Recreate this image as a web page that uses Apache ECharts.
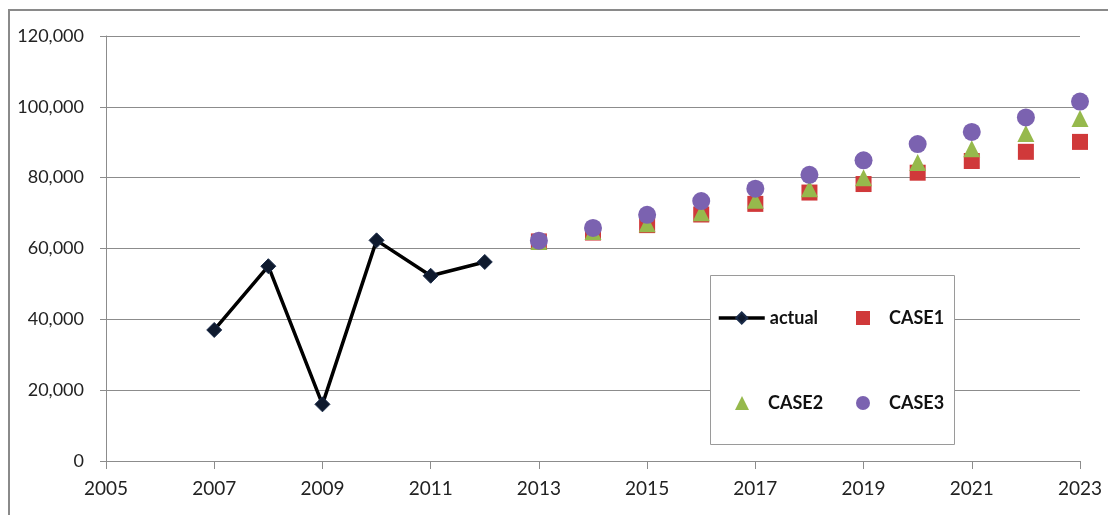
<!DOCTYPE html>
<html>
<head>
<meta charset="utf-8">
<script src="https://cdn.jsdelivr.net/npm/echarts@6/dist/echarts.min.js"></script>
<style>html,body{margin:0;padding:0;background:#fff}#c{width:1108px;height:515px}</style>
</head>
<body>
<div id="c"></div>
<script>
var actualYears = [2007, 2008, 2009, 2010, 2011, 2012];
var actualValues = [37000, 55000, 16000, 62300, 52300, 56200];
var caseYears = [2013, 2014, 2015, 2016, 2017, 2018, 2019, 2020, 2021, 2022, 2023];
var case1Values = [62000, 64500, 66600, 69600, 72600, 75800, 78200, 81400, 84700, 87300, 90100];
var case2Values = [62000, 64800, 67000, 70100, 73600, 76900, 80000, 84300, 88200, 92500, 96700];
var case3Values = [62200, 65800, 69500, 73400, 76900, 80800, 84900, 89500, 92900, 97000, 101500];
var yTicks = [0, 20000, 40000, 60000, 80000, 100000, 120000];
var xTicks = [2005, 2007, 2009, 2011, 2013, 2015, 2017, 2019, 2021, 2023];

function pairs(xs, ys) { return xs.map(function (x, i) { return [x, ys[i]]; }); }

var chart = echarts.init(document.getElementById('c'));
var font = 'Lato, "Open Sans", sans-serif';
var legendText = { fontSize: 18, fontWeight: 'bold', color: '#111', fontFamily: font };
function leg(name, left, top, w, h, padLeft, extra) {
  return Object.assign({
    left: left, top: top, itemWidth: w, itemHeight: h, z: 10,
    textStyle: Object.assign({}, legendText, { padding: [0, 0, 0, padLeft] }),
    data: [name]
  }, extra || {});
}
chart.setOption({
  animation: false,
  backgroundColor: '#fff',
  grid: { left: 106, right: 28, top: 36, bottom: 54, containLabel: false },
  graphic: [
    { type: 'rect', shape: { x: 9, y: 10, width: 1200, height: 600 }, style: { fill: 'none', stroke: '#8a8a8a', lineWidth: 2 }, silent: true, z: -1 },
    { type: 'rect', shape: { x: 710.5, y: 275.5, width: 244, height: 169 }, style: { fill: '#fff', stroke: '#9a9a9a', lineWidth: 1 }, silent: true, z: 5 }
  ],
  xAxis: {
    type: 'value', min: xTicks[0], max: xTicks[xTicks.length - 1], interval: 2,
    axisLine: { show: true, lineStyle: { color: '#8c8c8c', width: 1 } },
    axisTick: { show: true, length: 8, lineStyle: { color: '#8c8c8c' } },
    splitLine: { show: false },
    axisLabel: { color: '#222', fontSize: 19, fontFamily: font, margin: 18, formatter: function (v) { return String(v); } }
  },
  yAxis: {
    type: 'value', min: yTicks[0], max: yTicks[yTicks.length - 1], interval: 20000,
    axisLine: { show: true, lineStyle: { color: '#8c8c8c', width: 1 } },
    axisTick: { show: true, length: 6, lineStyle: { color: '#8c8c8c' } },
    splitLine: { show: true, lineStyle: { color: '#8c8c8c', width: 1 } },
    axisLabel: { color: '#222', fontSize: 18, fontFamily: font, margin: 22, formatter: function (v) { return v.toLocaleString('en-US'); } }
  },
  legend: [
    leg('actual', 712, 304, 46, 14, 0, { lineStyle: { width: 3.5, color: '#000' } }),
    leg('CASE2', 730, 389, 14, 14, 14),
    leg('CASE1', 851, 304, 14, 14, 14),
    leg('CASE3', 851, 389, 14, 14, 14)
  ],
  series: [
    {
      name: 'actual', type: 'line', data: pairs(actualYears, actualValues),
      lineStyle: { color: '#000', width: 3.5 }, itemStyle: { color: '#0f1a2e', borderColor: '#1b2c4a', borderWidth: 1 },
      symbol: 'diamond', symbolSize: 15, showSymbol: true, z: 3
    },
    {
      name: 'CASE1', type: 'scatter', data: pairs(caseYears, case1Values),
      symbol: 'rect', symbolSize: 16, itemStyle: { color: '#d0393a', opacity: 1 }, z: 2
    },
    {
      name: 'CASE2', type: 'scatter', data: pairs(caseYears, case2Values),
      symbol: 'triangle', symbolSize: 17, itemStyle: { color: '#96b94c', opacity: 1 }, z: 3
    },
    {
      name: 'CASE3', type: 'scatter', data: pairs(caseYears, case3Values),
      symbol: 'circle', symbolSize: 18, itemStyle: { color: '#7b62b0', opacity: 1 }, z: 4
    }
  ]
});
</script>
</body>
</html>
